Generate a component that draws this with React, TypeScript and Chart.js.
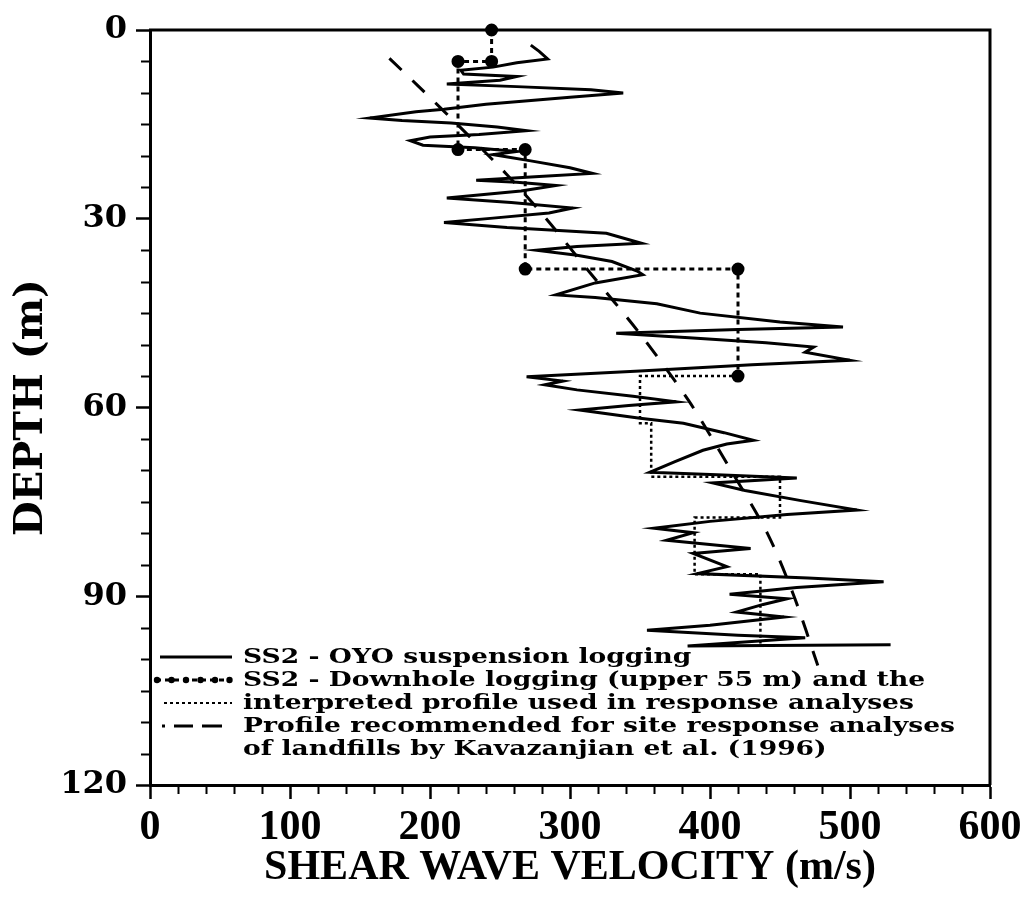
import React, { useEffect, useRef } from "react";
import { Chart, registerables } from "chart.js";

Chart.register(...registerables);

// OYO suspension log (shear wave velocity in m/s vs depth in m)
const oyoVelocity = [
  272, 278, 284, 262, 245, 222, 224, 262, 250, 212, 262, 315, 338, 300, 240, 210, 190, 157, 180, 215,
  248, 269, 235, 200, 186, 195, 232, 262, 245, 272, 300, 316, 278, 233, 262, 290, 265, 212, 258, 302,
  285, 245, 210, 255, 326, 351, 305, 276, 305, 330, 348, 352, 318, 290, 318, 362, 393, 450, 495, 420,
  333, 385, 440, 474, 468, 500, 430, 350, 269, 295, 282, 305, 345, 376, 342, 307, 350, 381, 410, 431,
  412, 395, 375, 357, 405, 462, 402, 425, 465, 505, 455, 400, 360, 388, 369, 429, 388, 412, 391, 470,
  524, 462, 414, 455, 438, 419, 453, 400, 355, 420, 468, 384, 529,
];
const oyoDepth = [
  2.4, 3.4, 4.6, 5.2, 5.9, 6.4, 7.0, 7.4, 8.0, 8.6, 9.0, 9.5, 10.0, 10.7, 11.8, 12.6, 13.0, 14.0, 14.4, 14.8,
  15.4, 16.0, 16.6, 17.0, 17.6, 18.3, 18.7, 19.3, 19.8, 20.8, 21.9, 22.8, 23.3, 23.9, 24.2, 24.7, 25.6, 26.7, 27.4, 28.3,
  29.1, 29.9, 30.6, 31.4, 32.3, 33.9, 34.4, 35.0, 35.8, 36.8, 38.3, 38.9, 40.2, 42.1, 42.5, 43.5, 45.0, 46.4, 47.2, 47.6,
  48.2, 48.9, 49.7, 50.4, 51.2, 52.5, 53.2, 54.2, 55.1, 55.8, 56.4, 57.2, 58.2, 59.1, 59.7, 60.4, 61.7, 62.5, 64.0, 65.2,
  65.8, 66.8, 68.6, 70.3, 70.7, 71.2, 72.0, 73.2, 74.8, 76.3, 77.0, 78.1, 79.2, 79.9, 81.1, 82.4, 83.2, 85.3, 86.4, 87.1,
  87.7, 88.6, 89.7, 90.4, 91.3, 92.5, 93.3, 94.6, 95.4, 96.2, 96.6, 97.9, 97.7,
];

// Downhole logging, upper 55 m
const downholeVelocity = [244, 244, 220, 220, 268, 268, 420, 420];
const downholeDepth = [0, 5, 5, 19, 19, 38, 38, 55];

// Interpreted profile below the downhole data
const interpretedVelocity = [420, 350, 350, 358, 358, 450, 450, 389, 389, 436, 436];
const interpretedDepth = [55, 55, 62.5, 62.5, 71, 71, 77.5, 77.5, 86.5, 86.5, 97.5];

// Recommended landfill profile (Kavazanjian et al.)
const kavazanjianVelocity = [171, 192, 224, 255, 283, 314, 349, 385, 415, 441, 460, 477];
const kavazanjianDepth = [4.5, 9, 16, 23, 30, 38.5, 48, 59, 70, 80, 90, 101];

const velocityRange = [0, 600];
const velocityMajorStep = 100;
const velocityMinorStep = 20;
const depthRange = [0, 120];
const depthMajorStep = 30;
const depthMinorStep = 5;

const legendLines = [
  "SS2 - OYO suspension logging",
  "SS2 - Downhole logging (upper 55 m) and the",
  "interpreted profile used in response analyses",
  "Profile recommended for site response analyses",
  "of landfills by Kavazanjian et al. (1996)",
];

const toPoints = (xs: number[], ys: number[]) => xs.map((x, i) => ({ x, y: ys[i] }));

const INK = "#000";

const decorPlugin = {
  id: "decor",
  afterDraw(chart: any) {
    const { ctx, chartArea: a, scales } = chart;
    const xs = scales.x;
    const ys = scales.y;
    ctx.save();
    ctx.strokeStyle = INK;
    ctx.fillStyle = INK;

    // top and right frame
    ctx.lineWidth = 3;
    ctx.beginPath();
    ctx.moveTo(a.left - 1, a.top);
    ctx.lineTo(a.right, a.top);
    ctx.lineTo(a.right, a.bottom);
    ctx.stroke();

    // minor ticks
    ctx.lineWidth = 2;
    ctx.beginPath();
    for (let v = velocityRange[0] + velocityMinorStep; v < velocityRange[1]; v += velocityMinorStep) {
      if (v % velocityMajorStep === 0) continue;
      const px = Math.round(xs.getPixelForValue(v)) + 0.5;
      ctx.moveTo(px, a.bottom);
      ctx.lineTo(px, a.bottom + 9);
    }
    for (let d = depthRange[0] + depthMinorStep; d < depthRange[1]; d += depthMinorStep) {
      if (d % depthMajorStep === 0) continue;
      const py = Math.round(ys.getPixelForValue(d)) + 0.5;
      ctx.moveTo(a.left - 9, py);
      ctx.lineTo(a.left, py);
    }
    ctx.stroke();

    // legend
    const x0 = a.left + 10;
    const x1 = a.left + 82;
    const rowY = [0, 1, 2, 3, 4].map((i) => a.bottom - 128 + i * 23);

    ctx.lineWidth = 3;
    ctx.setLineDash([]);
    ctx.beginPath();
    ctx.moveTo(x0, rowY[0]);
    ctx.lineTo(x1, rowY[0]);
    ctx.stroke();

    ctx.setLineDash([5, 4]);
    ctx.beginPath();
    ctx.moveTo(x0 - 4, rowY[1]);
    ctx.lineTo(x1, rowY[1]);
    ctx.stroke();
    ctx.setLineDash([]);
    for (let px = x0 - 3; px <= x1; px += 14.5) {
      ctx.beginPath();
      ctx.arc(px, rowY[1], 3.2, 0, Math.PI * 2);
      ctx.fill();
    }

    ctx.lineWidth = 2;
    ctx.setLineDash([3, 3]);
    ctx.beginPath();
    ctx.moveTo(x0 + 4, rowY[2]);
    ctx.lineTo(x1, rowY[2]);
    ctx.stroke();

    ctx.lineWidth = 3;
    ctx.setLineDash([3, 9, 19, 9, 20, 60]);
    ctx.beginPath();
    ctx.moveTo(x0 + 2, rowY[3]);
    ctx.lineTo(x1 + 2, rowY[3]);
    ctx.stroke();
    ctx.setLineDash([]);

    ctx.font = "bold 21px 'DejaVu Serif', serif";
    ctx.textBaseline = "middle";
    ctx.textAlign = "left";
    const sx = 712 / ctx.measureText(legendLines[3]).width;
    legendLines.forEach((line, i) => {
      ctx.save();
      ctx.translate(a.left + 93, rowY[i] + 1);
      ctx.scale(sx, 1);
      ctx.fillText(line, 0, 0);
      ctx.restore();
    });

    ctx.restore();
  },
};

export default function App() {
  const canvasRef = useRef<HTMLCanvasElement>(null);

  useEffect(() => {
    const canvas = canvasRef.current;
    if (!canvas) return;
    const chart = new Chart(canvas, {
      type: "scatter",
      data: {
        datasets: [
          {
            label: "SS2 - OYO suspension logging",
            data: toPoints(oyoVelocity, oyoDepth),
            showLine: true,
            borderColor: INK,
            borderWidth: 3,
            pointRadius: 0,
            tension: 0,
          },
          {
            label: "SS2 - Downhole logging",
            data: toPoints(downholeVelocity, downholeDepth),
            showLine: true,
            borderColor: INK,
            borderWidth: 3,
            borderDash: [5, 4],
            pointRadius: 5,
            pointBackgroundColor: INK,
            pointBorderColor: INK,
            tension: 0,
            clip: 8,
          },
          {
            label: "Interpreted profile",
            data: toPoints(interpretedVelocity, interpretedDepth),
            showLine: true,
            borderColor: INK,
            borderWidth: 2.5,
            borderDash: [3, 3],
            pointRadius: 0,
            tension: 0,
          },
          {
            label: "Kavazanjian et al. (1996)",
            data: toPoints(kavazanjianVelocity, kavazanjianDepth),
            showLine: true,
            borderColor: INK,
            borderWidth: 3,
            borderDash: [17, 15],
            pointRadius: 0,
            tension: 0.3,
          },
        ],
      },
      options: {
        animation: false,
        responsive: false,
        layout: { padding: { top: 30, right: 36, left: 0, bottom: 0 } },
        plugins: {
          legend: { display: false },
          tooltip: { enabled: false },
        },
        scales: {
          x: {
            type: "linear",
            position: "bottom",
            min: velocityRange[0],
            max: velocityRange[1],
            ticks: {
              stepSize: velocityMajorStep,
              color: INK,
              padding: 4,
              maxRotation: 0,
              font: { family: "'Liberation Serif', serif", size: 42, weight: "bold" },
            },
            grid: {
              drawOnChartArea: false,
              drawTicks: true,
              tickLength: 14,
              tickWidth: 2.5,
              tickColor: INK,
            },
            border: { display: true, color: INK, width: 3 },
            title: {
              display: true,
              text: "SHEAR WAVE VELOCITY (m/s)",
              color: INK,
              font: { family: "'Liberation Serif', serif", size: 42, weight: "bold" },
              padding: { top: 0, bottom: 13 },
            },
            afterFit: (s: any) => {
              s.height = 121;
              s.paddingLeft = 0;
              s.paddingRight = 0;
            },
          },
          y: {
            type: "linear",
            position: "left",
            reverse: true,
            min: depthRange[0],
            max: depthRange[1],
            ticks: {
              stepSize: depthMajorStep,
              color: INK,
              padding: 9,
              font: { family: "'DejaVu Serif', serif", size: 32, weight: "bold" },
            },
            grid: {
              drawOnChartArea: false,
              drawTicks: true,
              tickLength: 14,
              tickWidth: 2.5,
              tickColor: INK,
            },
            border: { display: true, color: INK, width: 3 },
            title: {
              display: true,
              text: "DEPTH (m)",
              color: INK,
              font: { family: "'DejaVu Serif', serif", size: 40, weight: "bold" },
              padding: { top: 8, bottom: 0 },
            },
            afterFit: (s: any) => {
              s.width = 150;
              s.paddingTop = 0;
              s.paddingBottom = 0;
            },
          },
        },
      },
      plugins: [decorPlugin],
    } as any);
    return () => chart.destroy();
  }, []);

  return (
    <div style={{ position: "absolute", left: 0, top: 0, width: 1026, height: 906, background: "#fff" }}>
      <canvas ref={canvasRef} width={1026} height={906} style={{ display: "block" }} />
    </div>
  );
}
